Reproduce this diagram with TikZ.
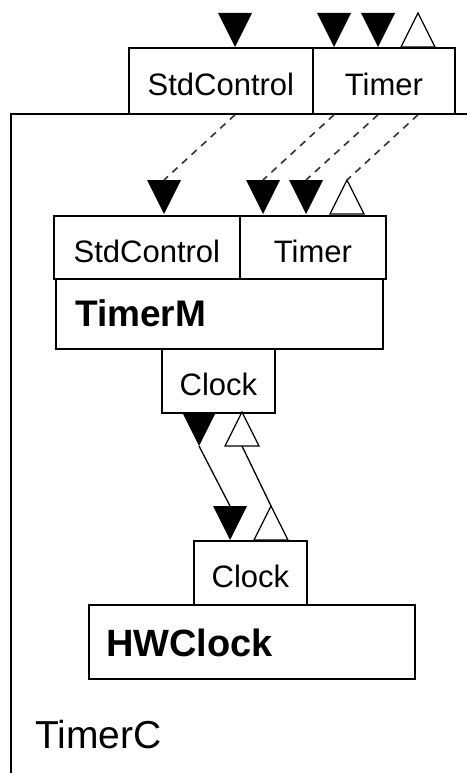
\documentclass[tikz,border=0pt]{standalone}
\usepackage{fontspec}
\setmainfont{Liberation Sans}
\usetikzlibrary{calc}
\tikzset{
  box/.style={draw=black, line width=1.8pt, inner sep=0pt, anchor=north west, text height=30pt, text depth=0pt, font=\fontsize{31}{34}\selectfont},
  title/.style={inner sep=0pt, anchor=west, font=\fontsize{37}{40}\selectfont\bfseries},
  wire/.style={line width=1.3pt, black},
  dwire/.style={line width=1.6pt, black!80, dash pattern=on 7pt off 6pt},
  usetri/.pic={
    \fill[black] (-17,-34) -- (17,-34) -- (0,0) -- cycle;
    \coordinate (-tip) at (0,0);
    \coordinate (-top) at (0,-34);
  },
  provtri/.pic={
    \draw[black, line width=1.3pt, fill=white] (-17,0) -- (17,0) -- (0,-34) -- cycle;
    \coordinate (-base) at (0,0);
    \coordinate (-apex) at (0,-34);
  }
}
\begin{document}
\begin{tikzpicture}[x=1pt,y=-1pt]
\useasboundingbox (0,0) rectangle (466,773);
\fill[white] (0,0) rectangle (466,773);
% outer TimerC configuration
\node[draw=black, line width=1.8pt, anchor=north west, minimum width=480, minimum height=700, inner sep=0pt] (timerc) at (10,113) {};
\node[inner sep=0pt, anchor=west, font=\fontsize{39}{42}\selectfont] (timerclbl) at (35,735) {TimerC};
% top interfaces
\node[box, minimum width=184, minimum height=66] (tsc) at (128,47) {StdControl};
\node[box, minimum width=142, minimum height=66] (ttm) at (312,47) {Timer};
\pic (t1) at (235,47) {usetri};
\pic (t2) at (334,47) {usetri};
\pic (t3) at (378,47) {usetri};
\pic (t4) at (418,47) {provtri};
% TimerM
\node[box, minimum width=186, minimum height=63] (msc) at (53,215) {StdControl};
\node[box, minimum width=146, minimum height=63] (mtm) at (239,215) {Timer};
\node[box, minimum width=327, minimum height=70] (timerm) at (55,278) {};
\node[title] (timermlbl) at (75,313) {TimerM};
\node[box, minimum width=113, minimum height=64] (mclk) at (161,348) {Clock};
\pic (b1) at (164,214) {usetri};
\pic (b2) at (263,214) {usetri};
\pic (b3) at (306,214) {usetri};
\pic (b4) at (347,214) {provtri};
% HWClock
\node[box, minimum width=113, minimum height=64] (hclk) at (193,540) {Clock};
\node[box, minimum width=326, minimum height=74] (hwclock) at (88,604) {};
\node[title, font=\fontsize{38}{41}\selectfont\bfseries] (hwclocklbl) at (106,643) {HWClock};
\pic (c1) at (199,446) {usetri};
\pic (c2) at (242,446) {provtri};
\pic (d1) at (230,540) {usetri};
\pic (d2) at (271,540) {provtri};
% connectors
\draw[dwire] (t1-tip |- tsc.south) -- (b1-top);
\draw[dwire] (t2-tip |- ttm.south) -- (b2-top);
\draw[dwire] (t3-tip |- ttm.south) -- (b3-top);
\draw[dwire] (t4-base |- ttm.south) -- (b4-apex);
\draw[wire] (c1-tip) -- (d1-top);
\draw[wire] (d2-apex) -- (c2-base);
\end{tikzpicture}
\end{document}
